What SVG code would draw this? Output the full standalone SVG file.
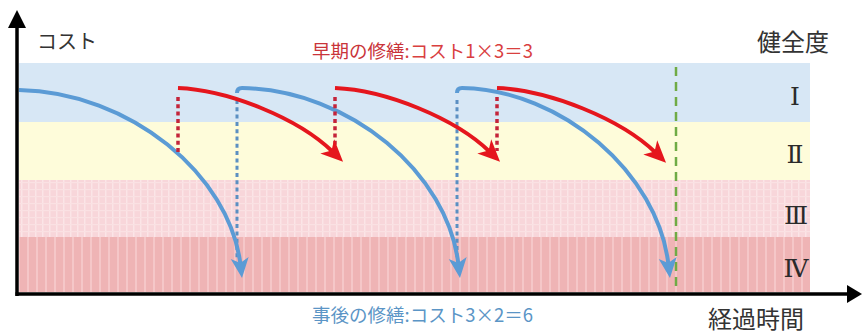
<svg xmlns="http://www.w3.org/2000/svg" width="862" height="336" viewBox="0 0 862 336">
  <style>
    .jp { font-family: "Noto Sans CJK JP", "Noto Sans", sans-serif; }
    .roman { font-family: "DejaVu Serif", "Liberation Serif", "Noto Sans CJK JP", serif; font-size: 25px; fill: #2a2a2a; text-anchor: middle; }
    .red { fill: none; stroke: #e5161d; stroke-width: 4; marker-end: url(#arrRed); }
    .blue { fill: none; stroke: #5b9bd5; stroke-width: 4; marker-end: url(#arrBlue); }
    .reddot { stroke: #c4243a; stroke-width: 3.5; stroke-dasharray: 4 3.3; fill: none; }
    .bluedot { stroke: #5b8fc2; stroke-width: 3; stroke-dasharray: 4 3.3; fill: none; }
  </style>
  <defs>
    <pattern id="grid3" width="7" height="7" patternUnits="userSpaceOnUse">
      <rect width="7" height="7" fill="#f8d6da"/>
      <rect x="0" y="0" width="1.5" height="7" fill="#fbe5e7"/>
      <rect x="0" y="0" width="7" height="1.2" fill="#fae1e3"/>
    </pattern>
    <pattern id="stripe4" width="9" height="10" patternUnits="userSpaceOnUse">
      <rect width="9" height="10" fill="#efb4b5"/>
      <rect x="0" y="0" width="2" height="10" fill="#f5c7c8"/>
    </pattern>
    <marker id="arrRed" markerUnits="userSpaceOnUse" markerWidth="24" markerHeight="24" viewBox="0 -12 24 24" refX="8" refY="0" orient="auto" overflow="visible">
      <path d="M0,-10 L22,0 L0,10 L6,0 Z" fill="#e5161d"/>
    </marker>
    <marker id="arrBlue" markerUnits="userSpaceOnUse" markerWidth="24" markerHeight="24" viewBox="0 -12 24 24" refX="7" refY="0" orient="auto" overflow="visible">
      <path d="M0,-9 L20,0 L0,9 L5,0 Z" fill="#5b9bd5"/>
    </marker>
  </defs>

  <g id="bands">
    <rect x="19" y="63" width="791" height="59" fill="#d7e7f5"/>
    <rect x="19" y="122" width="791" height="58" fill="#fefcda"/>
    <rect x="19" y="180" width="791" height="57" fill="url(#grid3)"/>
    <rect x="19" y="237" width="791" height="55" fill="url(#stripe4)"/>
  </g>

  <g id="band-labels">
    <text class="roman" x="795" y="105">Ⅰ</text>
    <text class="roman" x="795" y="163">Ⅱ</text>
    <text class="roman" x="796" y="224">Ⅲ</text>
    <text class="roman" x="796" y="277">Ⅳ</text>
  </g>

  <g id="limit-line">
    <line x1="676" y1="67" x2="676" y2="291" stroke="#6fab45" stroke-width="2.5" stroke-dasharray="9 6"/>
  </g>

  <g id="connectors">
    <g id="late-repair">
      <line class="bluedot" x1="237" y1="100" x2="237" y2="258"/>
      <line class="bluedot" x1="457" y1="100" x2="457" y2="258"/>
      <path class="blue" d="M19,90 C130,92 230,175 240.5,265"/>
      <path class="blue" d="M237,93 Q237,88 242,88 C350,90 448,173 458.5,265"/>
      <path class="blue" d="M457,93 Q457,88 462,88 C562,90 658,173 668.5,265"/>
    </g>
    <g id="early-repair">
      <line class="reddot" x1="178" y1="97" x2="178" y2="153"/>
      <line class="reddot" x1="335" y1="97" x2="335" y2="151"/>
      <line class="reddot" x1="497" y1="97" x2="497" y2="151"/>
      <path class="red" d="M178,88 C228,90 298,118 333,152"/>
      <path class="red" d="M335,88 C385,90 455,118 490,152"/>
      <path class="red" d="M497,88 C549,90 621,119 656,153"/>
    </g>
  </g>

  <g id="axes">
    <line x1="17" y1="296" x2="17" y2="26" stroke="#000" stroke-width="3.5"/>
    <polygon points="17,10 26,28 8,28" fill="#000"/>
    <line x1="15.5" y1="294" x2="849" y2="294" stroke="#000" stroke-width="3.5"/>
    <polygon points="862,294 847,285 847,303" fill="#000"/>
  </g>

  <g id="labels">
    <text class="jp" x="37" y="49" font-size="20" fill="#333">コスト</text>
    <text class="jp" x="757" y="51" font-size="24" fill="#333">健全度</text>
    <text class="jp" x="708" y="328" font-size="24" fill="#333">経過時間</text>
    <text class="jp" x="312" y="58" font-size="18.5" fill="#d9403f"><tspan fill="#c9343a">早期の修繕</tspan>:コスト1×3＝3</text>
    <text class="jp" x="312" y="322" font-size="18.5" fill="#5b95c6">事後の修繕:コスト3×2＝6</text>
  </g>
</svg>
